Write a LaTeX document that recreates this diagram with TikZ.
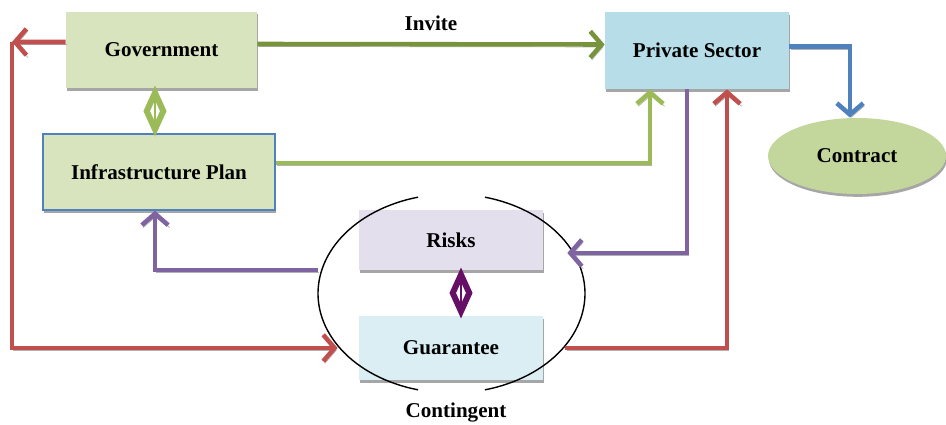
\documentclass[tikz,border=0pt]{standalone}
\usepackage{fontspec}
\setmainfont{Liberation Serif}
\usepackage{tikz}
\usetikzlibrary{arrows.meta, positioning, shapes.geometric, shadows}
\definecolor{govfill}{HTML}{D7E4BD}
\definecolor{privfill}{HTML}{B7DEE8}
\definecolor{contractfill}{HTML}{C3D69B}
\definecolor{riskfill}{HTML}{E4DFEC}
\definecolor{guarfill}{HTML}{DBEEF3}
\definecolor{invitegreen}{HTML}{77933C}
\definecolor{plangreen}{HTML}{9BBB59}
\definecolor{linkred}{HTML}{C0504D}
\definecolor{linkpurple}{HTML}{8064A2}
\definecolor{linkblue}{HTML}{4F81BD}
\definecolor{riskplum}{HTML}{660F66}
\tikzset{
	flowbox/.style={minimum width=3.68cm, minimum height=1.54cm, inner sep=0pt, font=\bfseries\fontsize{12}{14}\selectfont, fill=#1, drop shadow={shadow xshift=0.5pt, shadow yshift=-1.6pt, fill=black!35, opacity=1}},
	flowarr/.style={-{Straight Barb[length=6.5pt, width=15pt]}, line width=2.6pt, draw=#1, preaction={draw=black!30, transform canvas={shift={(0.8pt,-1.4pt)}}}},
	linkdia/.style={diamond, draw=#1, line width=3.4pt, aspect=0.5, inner sep=0pt, minimum width=0.38cm, minimum height=0.78cm},
	labeltext/.style={font=\bfseries\fontsize{12}{14}\selectfont},
}
\begin{document}
\begin{tikzpicture}[x=0.02cm, y=-0.02cm]
	\useasboundingbox (0,0) rectangle (946,425);
	% boxes
	\node[flowbox=govfill, minimum width=3.82cm] (gov) at (161.5,50) {Government};
	\node[flowbox=govfill, draw=linkblue, line width=0.8pt, minimum width=4.64cm, minimum height=1.52cm] (infra) at (159,172) {Infrastructure Plan};
	\node[flowbox=privfill] (priv) at (697,50.5) {Private Sector};
	\node[flowbox=contractfill, ellipse, minimum width=3.56cm, minimum height=1.52cm] (contract) at (857,156) {Contract};
	\node[flowbox=riskfill, minimum height=1.2cm] (risks) at (451,240) {Risks};
	\node[flowbox=guarfill, minimum height=1.28cm] (guar) at (451,348) {Guarantee};
	% contingent ring
	\draw[thick] plot[domain=104.5:255.5, samples=60] ({451.5+133.5*cos(\x)}, {293.5-99.5*sin(\x)});
	\draw[thick] plot[domain=-75.5:75.5, samples=60] ({451.5+133.5*cos(\x)}, {293.5-99.5*sin(\x)});
	\node[labeltext] (contingent) at (456,413) {Contingent};
	% connectors
	\coordinate (redcorner) at (12,42);
	\coordinate (ringedge) at (318,270);
	\draw[flowarr=invitegreen] ([yshift=0.12cm]gov.east) -- node[labeltext, above=3pt] (invite) {Invite} ([yshift=0.12cm]priv.west);
	\draw[flowarr=plangreen] ([yshift=0.18cm]infra.east) -| ([xshift=-0.94cm]priv.south);
	\draw[flowarr=linkblue] ([yshift=0.08cm]priv.east) -| ([xshift=-0.14cm]contract.north);
	\draw[flowarr=linkred] ([yshift=0.16cm]gov.west) -- (redcorner);
	\draw[flowarr=linkred] (redcorner) |- ([xshift=-0.42cm]guar.west);
	\draw[flowarr=linkred] ([xshift=0.44cm]guar.east) -| ([xshift=0.6cm]priv.south);
	\draw[flowarr=linkpurple] ([xshift=-0.2cm]priv.south) |- ([xshift=0.48cm, yshift=-0.26cm]risks.east);
	\draw[flowarr=linkpurple] (ringedge) -| ([xshift=-0.08cm]infra.south);
	\draw[plangreen, line width=1pt] ([xshift=-0.13cm]gov.south) -- ([xshift=-0.08cm]infra.north) node[midway, linkdia=plangreen] (govlink) {};
	\draw[riskplum, line width=1pt] ([xshift=0.2cm]risks.south) -- ([xshift=0.2cm]guar.north) node[midway, linkdia=riskplum] (risklink) {};
\end{tikzpicture}
\end{document}
